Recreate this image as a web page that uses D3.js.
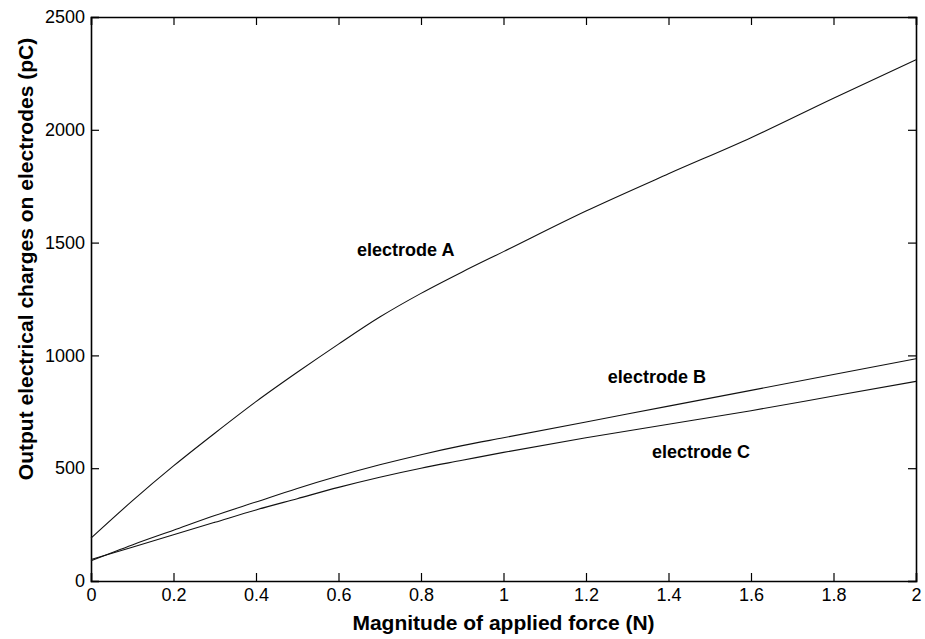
<!DOCTYPE html>
<html>
<head>
<meta charset="utf-8">
<script src="https://cdn.jsdelivr.net/npm/d3@7"></script>
<style>
  body { margin: 0; background: #fff; }
  text { font-family: "Liberation Sans", Arial, Helvetica, sans-serif; }
</style>
</head>
<body>
<div id="chart"></div>
<script>
const width = 925;
const height = 639;

// data
const force = [0, 0.1, 0.2, 0.3, 0.4, 0.5, 0.6, 0.7, 0.8, 0.9, 1.0, 1.2, 1.4, 1.6, 1.8, 2.0];
const electrodeA = [190, 355, 510, 655, 795, 925, 1050, 1170, 1275, 1370, 1460, 1640, 1805, 1965, 2140, 2310];
const electrodeB = [90, 160, 225, 290, 350, 410, 465, 515, 560, 600, 635, 705, 775, 845, 915, 985];
const electrodeC = [95, 150, 205, 260, 315, 365, 415, 460, 500, 535, 570, 635, 695, 755, 820, 885];

const xTicks = [0, 0.2, 0.4, 0.6, 0.8, 1, 1.2, 1.4, 1.6, 1.8, 2];
const yTicks = [0, 500, 1000, 1500, 2000, 2500];

const labelText = ["electrode A", "electrode B", "electrode C"];
const labelX = [0.645, 1.253, 1.36];
const labelY = [1467, 904, 572];

let margin = { top: 17, right: 9, bottom: 58, left: 91 },
    plotWidth = width - margin.left - margin.right,
    plotHeight = height - margin.top - margin.bottom;

const svg = d3.select("#chart").append("svg")
    .attr("width", width)
    .attr("height", height);

const g = svg.append("g")
    .attr("transform", `translate(${margin.left}, ${margin.top})`);

const x = d3.scaleLinear().domain([0, 2]).range([0, plotWidth]);
const y = d3.scaleLinear().domain([0, 2500]).range([plotHeight, 0]);

// axes, ticks pointing inward like matlab
const fmt = d => String(d);

g.append("g")
    .attr("transform", `translate(0, ${plotHeight})`)
    .call(d3.axisBottom(x).tickValues(xTicks).tickFormat(fmt).tickSize(-8).tickPadding(7));

g.append("g")
    .call(d3.axisLeft(y).tickValues(yTicks).tickFormat(fmt).tickSize(-8).tickPadding(6));

g.append("g")
    .call(d3.axisTop(x).tickValues(xTicks).tickFormat("").tickSize(-8));

g.append("g")
    .attr("transform", `translate(${plotWidth}, 0)`)
    .call(d3.axisRight(y).tickValues(yTicks).tickFormat("").tickSize(-8));

g.selectAll(".domain")
    .attr("stroke", "#000")
    .attr("stroke-width", 1.6);
g.selectAll(".tick line")
    .attr("stroke", "#000")
    .attr("stroke-width", 1.2);
g.selectAll(".tick text")
    .attr("font-size", "18px")
    .attr("fill", "#000");

// curves
const line = d3.line()
    .x((d, i) => x(force[i]))
    .y(d => y(d))
    .curve(d3.curveMonotoneX);

[electrodeA, electrodeB, electrodeC].forEach(series => {
    g.append("path")
        .datum(series)
        .attr("fill", "none")
        .attr("stroke", "#111")
        .attr("stroke-width", 1.1)
        .attr("d", line);
});

// curve labels
labelText.forEach((t, i) => {
    g.append("text")
        .attr("x", x(labelX[i]))
        .attr("y", y(labelY[i]))
        .attr("dy", "0.35em")
        .attr("font-size", "18px")
        .attr("font-weight", "bold")
        .text(t);
});

// X label
g.append("text")
    .attr("x", plotWidth / 2)
    .attr("y", plotHeight + 49)
    .attr("font-size", "21px")
    .attr("font-weight", "bold")
    .attr("text-anchor", "middle")
    .text("Magnitude of applied force (N)");

// Y label
svg.append("text")
    .attr("transform", "translate(33, 259) rotate(-90)")
    .attr("font-size", "21px")
    .attr("font-weight", "bold")
    .attr("text-anchor", "middle")
    .text("Output electrical charges on electrodes (pC)");
</script>
</body>
</html>
